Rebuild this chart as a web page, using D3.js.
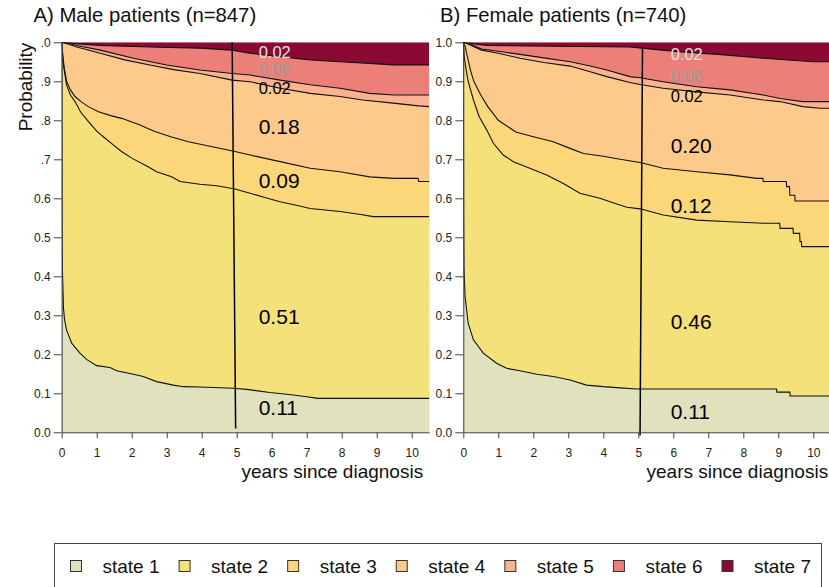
<!DOCTYPE html>
<html><head><meta charset="utf-8">
<script src="https://cdn.jsdelivr.net/npm/d3@7"></script>
<style>html,body{margin:0;padding:0;background:#fff;}</style>
</head><body>
<script>
// ---------- DATA ----------
const states = ["state 1","state 2","state 3","state 4","state 5","state 6","state 7"];
const stateColors = ["#dfe2bd","#f5e17a","#fbd779","#fdca8c","#f9b390","#ec8079","#8a0a34"];
const xTicks = [0,1,2,3,4,5,6,7,8,9,10];
const yTicks = [0,0.1,0.2,0.3,0.4,0.5,0.6,0.7,0.8,0.9,1.0];
const yTickLabelsA = ["0.0","0.1","0.2","0.3","0.4","0.5","0.6",".7",".8",".9",".0"];
const yTickLabelsB = ["0.0","0.1","0.2","0.3","0.4","0.5","0.6","0.7","0.8","0.9","1.0"];
const titles = ["A) Male patients (n=847)","B) Female patients (n=740)"];
const xLabel = "years since diagnosis";
const yLabel = "Probability";

// cumulative boundaries [years, probability] (upper edge of states 1..6)
const maleB1 = [[0,1],[0.01,0.62],[0.02,0.42],[0.05,0.32],[0.08,0.29],[0.14,0.262],[0.29,0.228],[0.52,0.203],[0.71,0.187],[1.0,0.171],[1.38,0.166],[1.57,0.158],[2.05,0.149],[2.33,0.143],[2.71,0.130],[3.19,0.121],[3.47,0.117],[3.95,0.116],[4.9,0.113],[5.29,0.110],[5.95,0.102],[6.5,0.097],[7.0,0.091],[7.32,0.087],[10.5,0.087]];
const maleB2 = [[0,1],[0.03,0.96],[0.07,0.93],[0.14,0.89],[0.25,0.865],[0.38,0.848],[0.55,0.82],[0.76,0.797],[1.0,0.772],[1.24,0.754],[1.5,0.735],[1.71,0.72],[2.0,0.703],[2.47,0.681],[2.71,0.668],[3.14,0.655],[3.38,0.643],[3.95,0.636],[4.43,0.632],[4.95,0.624],[5.38,0.613],[5.8,0.602],[6.24,0.591],[6.7,0.582],[7.1,0.574],[7.95,0.566],[8.5,0.559],[8.9,0.553],[10.5,0.553]];
const maleB3 = [[0,1],[0.03,0.97],[0.07,0.935],[0.14,0.90],[0.25,0.878],[0.38,0.861],[0.55,0.848],[0.76,0.835],[1.05,0.822],[1.4,0.812],[1.71,0.805],[2.2,0.789],[2.66,0.771],[3.14,0.757],[3.62,0.745],[4.3,0.732],[4.95,0.72],[5.38,0.711],[6.24,0.694],[7.1,0.677],[7.95,0.668],[8.8,0.655],[9.5,0.651],[10.18,0.651],[10.2,0.643],[10.5,0.643]];
const maleB4 = [[0,1],[0.2,0.995],[0.43,0.988],[1.1,0.972],[1.8,0.955],[2.52,0.942],[3.2,0.93],[3.95,0.92],[4.87,0.903],[5.38,0.899],[6.24,0.882],[7.1,0.869],[7.95,0.861],[8.6,0.852],[9.47,0.844],[10.2,0.837],[10.5,0.835]];
const maleB5 = [[0,1],[0.2,0.997],[0.43,0.992],[1.1,0.98],[2.05,0.959],[3.0,0.942],[3.95,0.929],[4.87,0.92],[5.38,0.916],[6.24,0.903],[7.1,0.891],[7.95,0.882],[8.8,0.869],[9.5,0.865],[10.5,0.865]];
const maleB6 = [[0,1],[0.5,0.996],[1.1,0.992],[2.52,0.988],[3.95,0.985],[4.87,0.98],[5.38,0.972],[6.24,0.963],[7.1,0.955],[7.95,0.95],[8.8,0.946],[9.47,0.942],[10.5,0.942]];

const femaleB1 = [[0,1],[0.01,0.55],[0.02,0.42],[0.05,0.348],[0.14,0.279],[0.29,0.237],[0.57,0.203],[0.95,0.177],[1.24,0.164],[1.62,0.158],[2.1,0.149],[2.57,0.143],[3.05,0.134],[3.52,0.121],[4.0,0.117],[4.48,0.114],[4.95,0.111],[8.95,0.111],[8.96,0.103],[9.33,0.103],[9.34,0.093],[10.5,0.093]];
const femaleB2 = [[0,1],[0.03,0.96],[0.08,0.93],[0.14,0.9],[0.29,0.852],[0.45,0.81],[0.67,0.775],[0.86,0.741],[1.14,0.711],[1.43,0.694],[1.9,0.677],[2.38,0.66],[2.86,0.638],[3.33,0.613],[3.9,0.60],[4.3,0.588],[4.67,0.577],[5.05,0.573],[5.71,0.557],[6.67,0.544],[7.62,0.54],[8.57,0.536],[9.04,0.536],[9.05,0.523],[9.42,0.523],[9.43,0.51],[9.61,0.51],[9.62,0.489],[9.66,0.489],[9.67,0.476],[10.5,0.476]];
const femaleB3 = [[0,1],[0.05,0.99],[0.1,0.97],[0.2,0.93],[0.3,0.90],[0.5,0.865],[0.7,0.835],[1.0,0.80],[1.5,0.77],[2.0,0.758],[2.57,0.745],[3.05,0.728],[3.43,0.715],[4.0,0.708],[4.48,0.70],[5.05,0.692],[5.71,0.677],[6.67,0.668],[7.62,0.66],[8.38,0.651],[8.56,0.651],[8.57,0.643],[9.23,0.643],[9.24,0.63],[9.32,0.63],[9.33,0.608],[9.47,0.608],[9.48,0.593],[10.5,0.593]];
const femaleB4 = [[0,1],[0.2,0.993],[0.52,0.98],[1.0,0.972],[1.62,0.959],[2.3,0.948],[3.05,0.939],[3.6,0.925],[4.1,0.912],[4.76,0.897],[5.05,0.892],[5.71,0.882],[6.67,0.873],[7.62,0.865],[8.57,0.852],[9.05,0.848],[9.7,0.835],[10.2,0.831],[10.5,0.831]];
const femaleB5 = [[0,1],[0.2,0.995],[0.52,0.983],[1.0,0.977],[1.62,0.969],[2.3,0.96],[3.05,0.95],[3.6,0.94],[4.1,0.929],[4.76,0.912],[5.05,0.909],[5.71,0.899],[6.67,0.886],[7.62,0.878],[8.57,0.865],[9.05,0.856],[9.7,0.848],[10.5,0.848]];
const femaleB6 = [[0,1],[0.3,0.996],[0.67,0.992],[2.57,0.99],[4.76,0.988],[5.1,0.985],[6.14,0.976],[7.28,0.969],[8.57,0.959],[10.0,0.95],[10.5,0.95]];

// 5-year reference line [years, probability] endpoints
const maleVLine = [[4.87,1.0],[4.97,0.01]];
const femaleVLine = [[5.12,0.987],[5.05,-0.008]];

// state probabilities at 5 years (top to bottom: state 7 .. state 1)
const maleLabels = ["0.02","0.06","0.02","0.18","0.09","0.51","0.11"];
const femaleLabels = ["0.02","0.06","0.02","0.20","0.12","0.46","0.11"];

// ---------- LAYOUT ----------
const W = 829, H = 587;
const FONT = '"Liberation Sans", Arial, Helvetica, sans-serif';
const yTop = 42.3, yBot = 432.3;
const labelBaselines = [[57.5,75,94,133.5,188,324,415],[60,82,102,152.5,213,329,418.5]];
const labelSizes = [16.5,16.5,16.5,21,21,21,21];
const labelColors = ["#e2e2e2","#9a9a9a","#000","#000","#000","#000","#000"];

const panels = [
  {title: titles[0], tx: 33.5, x0: 61.7, bounds:[maleB1,maleB2,maleB3,maleB4,maleB5,maleB6], vline: maleVLine, labels: maleLabels, ytl: yTickLabelsA, labX: 258.7, xlabX: 241.5, lb: labelBaselines[0]},
  {title: titles[1], tx: 440, x0: 463.3, bounds:[femaleB1,femaleB2,femaleB3,femaleB4,femaleB5,femaleB6], vline: femaleVLine, labels: femaleLabels, ytl: yTickLabelsB, labX: 670.7, xlabX: 646.5, lb: labelBaselines[1]}
];

const svg = d3.select("body").append("svg").attr("width", W).attr("height", H)
  .style("font-family", FONT);

const ys = d3.scaleLinear().domain([0,1]).range([yBot, yTop]);

panels.forEach((p, pi) => {
  const xs = d3.scaleLinear().domain([0,10.5]).range([p.x0, p.x0 + 35*10.5]);
  const g = svg.append("g");
  const cid = "clip" + pi;
  svg.append("defs").append("clipPath").attr("id", cid).append("rect")
    .attr("x", xs(0)).attr("y", ys(1)).attr("width", xs(10.5)-xs(0)).attr("height", ys(0)-ys(1));
  const plot = g.append("g").attr("clip-path", `url(#${cid})`);

  const area = d3.area().x(d => xs(d[0])).y0(ys(0)).y1(d => ys(d[1]));
  const line = d3.line().x(d => xs(d[0])).y(d => ys(d[1]));

  plot.append("path").datum([[0,1],[10.5,1]]).attr("d", area).attr("fill", stateColors[6]);
  for (let k = 5; k >= 0; k--) {
    plot.append("path").datum(p.bounds[k]).attr("d", area).attr("fill", stateColors[k]);
  }
  for (let k = 0; k < 6; k++) {
    plot.append("path").datum(p.bounds[k]).attr("d", line)
      .attr("fill","none").attr("stroke", "#111").attr("stroke-width", 1.1);
  }

  g.append("path").datum(p.vline).attr("d", line)
    .attr("stroke","#000").attr("stroke-width",1.5).attr("fill","none");

  p.labels.forEach((t, i) => {
    g.append("text").attr("x", p.labX).attr("y", p.lb[i]).text(t)
      .attr("font-size", labelSizes[i]).attr("fill", labelColors[i]);
  });

  const ax = g.append("g").attr("transform", `translate(${xs(0)},0)`)
    .call(d3.axisLeft(ys).tickValues(yTicks).tickFormat((d,i) => p.ytl[i]).tickSize(8).tickPadding(3).tickSizeOuter(0));
  ax.select(".domain").attr("stroke","#444");
  ax.selectAll(".tick line").attr("stroke","#444");
  ax.selectAll("text").attr("font-size", 12).attr("font-family", FONT).attr("fill","#222");

  const bx = g.append("g").attr("transform", `translate(0,${yBot})`)
    .call(d3.axisBottom(xs).tickValues(xTicks).tickFormat(d3.format("d")).tickSize(6).tickPadding(10).tickSizeOuter(0));
  bx.select(".domain").attr("stroke","#444");
  bx.selectAll(".tick line").attr("stroke","#444");
  bx.selectAll("text").attr("font-size", 12).attr("font-family", FONT).attr("fill","#222");

  g.append("text").attr("x", p.xlabX).attr("y", 478).text(xLabel)
    .attr("font-size", 19).attr("fill","#111");
  g.append("text").attr("x", p.tx).attr("y", 22).text(p.title)
    .attr("font-size", 20.3).attr("fill","#111");
});

svg.append("text").attr("transform", "translate(32,87) rotate(-90)")
  .attr("text-anchor","middle").attr("font-size", 19).attr("fill","#111").text(yLabel);

const lg = svg.append("g");
lg.append("rect").attr("x", 54.5).attr("y", 543.5).attr("width", 767).attr("height", 60)
  .attr("fill","#fff").attr("stroke","#444").attr("stroke-width",1);
const lx = d3.scalePoint().domain(states).range([70, 721.5]);
states.forEach((s, i) => {
  lg.append("rect").attr("x", lx(s)+0.5).attr("y", 560.5).attr("width", 11).attr("height", 11)
    .attr("fill", stateColors[i]).attr("stroke","#333").attr("stroke-width",1);
  lg.append("text").attr("x", lx(s)+32.5).attr("y", 572.5).text(s)
    .attr("font-size", 19).attr("fill","#111");
});
</script>
</body></html>
